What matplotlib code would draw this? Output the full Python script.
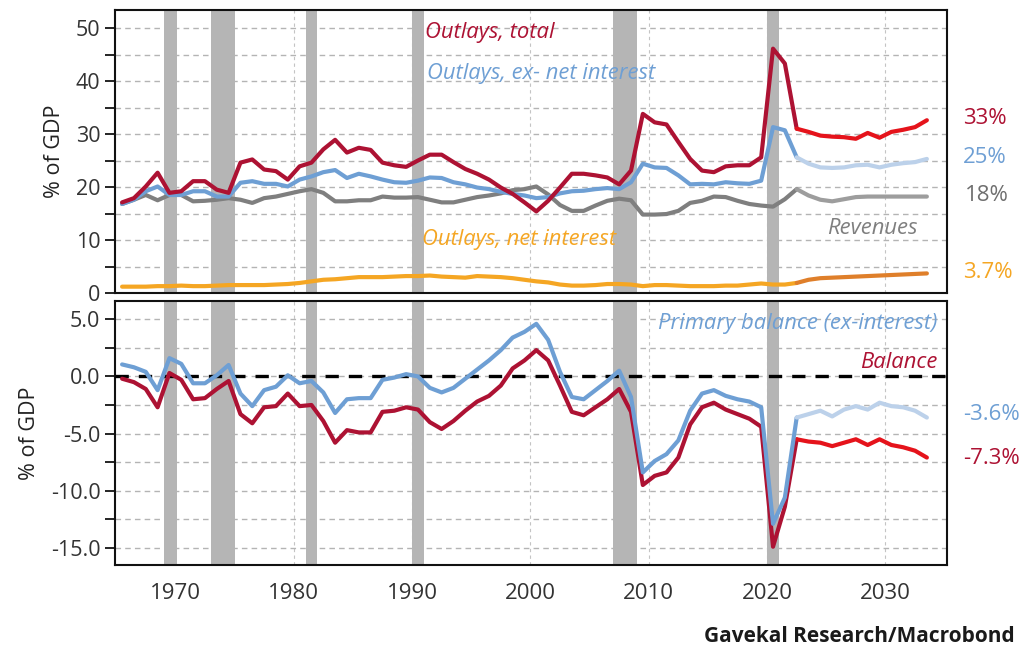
import numpy as np
import matplotlib
matplotlib.use('Agg')
import matplotlib.pyplot as plt
from matplotlib.ticker import MultipleLocator, FormatStrFormatter

plt.rcParams['font.family'] = ['Open Sans', 'DejaVu Sans']

# fiscal years, values as % of GDP (CBO projections from 2023 on)
years = np.arange(1965, 2034)
proj_start = 2022

outlays_total = [17.1, 17.9, 20.1, 22.7, 18.9, 19.2, 21.1, 21.1, 19.5, 18.9,
                 24.6, 25.2, 23.3, 23.0, 21.4, 23.9, 24.6, 27.1, 28.9, 26.5,
                 27.4, 27.0, 24.6, 24.1, 23.8, 25.0, 26.1, 26.1, 24.7, 23.4,
                 22.5, 21.4, 19.9, 18.7, 17.1, 15.4, 17.4, 19.9, 22.5, 22.5,
                 22.2, 21.8, 20.5, 23.1, 33.8, 32.2, 31.8, 28.5, 25.3, 23.1,
                 22.8, 23.9, 24.1, 24.1, 25.6, 46.1, 43.3, 31.0, 30.4, 29.7,
                 29.5, 29.4, 29.1, 30.2, 29.3, 30.4, 30.8, 31.3, 32.6]
outlays_ex_int = [16.8, 17.6, 19.2, 20.1, 18.5, 18.5, 19.2, 19.2, 18.2, 18.2,
                  20.8, 21.1, 20.6, 20.6, 20.1, 21.4, 22.0, 22.8, 23.2, 21.7,
                  22.5, 22.0, 21.4, 20.9, 20.8, 21.2, 21.8, 21.7, 20.9, 20.5,
                  19.9, 19.6, 19.1, 18.7, 18.4, 17.9, 18.1, 18.8, 19.2, 19.3,
                  19.6, 19.8, 19.6, 20.9, 24.4, 23.7, 23.6, 22.2, 20.5, 20.6,
                  20.5, 20.9, 20.7, 20.6, 21.2, 31.3, 30.7, 25.6, 24.4, 23.7,
                  23.6, 23.7, 24.1, 24.2, 23.7, 24.2, 24.5, 24.7, 25.3]
revenues = [16.8, 17.6, 18.5, 17.5, 18.5, 18.5, 17.3, 17.4, 17.6, 17.9,
            17.6, 17.0, 17.9, 18.2, 18.7, 19.2, 19.6, 18.9, 17.3, 17.3,
            17.5, 17.5, 18.2, 18.0, 18.0, 18.1, 17.6, 17.1, 17.1, 17.6,
            18.1, 18.4, 18.8, 19.4, 19.6, 20.1, 18.6, 16.6, 15.5, 15.5,
            16.5, 17.4, 17.8, 17.5, 14.8, 14.8, 14.9, 15.5, 17.0, 17.4,
            18.2, 18.1, 17.4, 16.8, 16.5, 16.3, 17.7, 19.6, 18.4, 17.6,
            17.3, 17.7, 18.1, 18.2, 18.2, 18.2, 18.2, 18.2, 18.2]
net_interest = [1.2, 1.2, 1.2, 1.3, 1.3, 1.4, 1.3, 1.3, 1.4, 1.5,
                1.5, 1.5, 1.5, 1.6, 1.7, 1.9, 2.2, 2.5, 2.6, 2.8,
                3.0, 3.0, 3.0, 3.1, 3.2, 3.2, 3.3, 3.1, 3.0, 2.9,
                3.2, 3.1, 3.0, 2.8, 2.5, 2.2, 2.0, 1.6, 1.4, 1.4,
                1.5, 1.7, 1.7, 1.6, 1.3, 1.5, 1.5, 1.4, 1.3, 1.3,
                1.3, 1.4, 1.4, 1.6, 1.8, 1.6, 1.6, 1.9, 2.5, 2.8,
                2.9, 3.0, 3.1, 3.2, 3.3, 3.4, 3.5, 3.6, 3.7]
primary_balance = [1.05, 0.8, 0.4, -1.2, 1.6, 1.1, -0.6, -0.6, 0.1, 1.0,
                   -1.5, -2.6, -1.2, -0.9, 0.1, -0.6, -0.4, -1.4, -3.2, -2.0,
                   -1.9, -1.9, -0.3, -0.1, 0.2, 0.0, -1.0, -1.4, -1.0, -0.2,
                   0.6, 1.4, 2.3, 3.4, 3.9, 4.6, 3.2, 0.4, -1.8, -2.0,
                   -1.2, -0.4, 0.5, -1.8, -8.4, -7.4, -6.8, -5.6, -3.0, -1.5,
                   -1.2, -1.7, -2.0, -2.2, -2.7, -12.9, -10.6, -3.6, -3.3, -3.0,
                   -3.5, -2.9, -2.6, -2.9, -2.3, -2.6, -2.7, -3.0, -3.6]
balance = [-0.2, -0.5, -1.1, -2.7, 0.3, -0.3, -2.0, -1.9, -1.1, -0.4,
           -3.3, -4.1, -2.7, -2.6, -1.5, -2.6, -2.5, -3.9, -5.8, -4.7,
           -4.9, -4.9, -3.1, -3.0, -2.7, -2.9, -4.0, -4.6, -3.9, -3.0,
           -2.2, -1.7, -0.8, 0.7, 1.4, 2.3, 1.4, -0.8, -3.1, -3.4,
           -2.7, -2.0, -1.1, -3.1, -9.5, -8.7, -8.4, -7.1, -4.2, -2.7,
           -2.3, -2.9, -3.3, -3.7, -4.4, -14.9, -11.4, -5.5, -5.7, -5.8,
           -6.1, -5.8, -5.5, -6.0, -5.5, -6.0, -6.2, -6.5, -7.1]

rec_start = [1969.0, 1973.0, 1981.0, 1990.0, 2007.0, 2020.0]
rec_end = [1970.1, 1975.0, 1982.0, 1991.0, 2009.0, 2021.0]

# colours: (history, projection)
c_red = ('#ad1233', '#e5131b')
c_blue = ('#6e9fd4', '#bcd1ea')
c_gray = ('#7f7f7f', '#9d9d9d')
c_orange = ('#f5a623', '#df7f2a')

x = years + 0.5  # annual values plotted mid-year
hist = years <= proj_start
proj = years >= proj_start

fig = plt.figure(figsize=(10.24, 6.48), dpi=100)
ax1 = fig.add_axes([0.1123, 0.5478, 0.8125, 0.4368])
ax2 = fig.add_axes([0.1123, 0.1281, 0.8125, 0.4074])


def style_axis(ax):
    ax.set_xlim(1964.9, 2035.2)
    ax.xaxis.set_major_locator(MultipleLocator(10))
    ax.yaxis.grid(True, which='both', ls=(0, (4, 3)), color='#b4b4b4', lw=1.0)
    ax.xaxis.grid(True, which='major', ls=(0, (3, 3)), color='#c4c4c4', lw=0.8)
    ax.set_axisbelow(True)
    ax.tick_params(axis='y', which='both', direction='out', length=7.5, width=1.2,
                   labelsize=15.5, labelcolor='#333333', pad=3)
    ax.tick_params(axis='x', length=0, labelsize=16, labelcolor='#333333', pad=13)
    for s in ax.spines.values():
        s.set_linewidth(1.5)
        s.set_color('#111111')
    for a, b in zip(rec_start, rec_end):
        ax.axvspan(a, b, color='#b5b5b5', lw=0, zorder=1)


def plot_split(ax, vals, cols, z):
    vals = np.asarray(vals)
    ax.plot(x[hist], vals[hist], color=cols[0], lw=3.0, zorder=z, solid_capstyle='round')
    ax.plot(x[proj], vals[proj], color=cols[1], lw=3.0, zorder=z, solid_capstyle='round')


# top panel
style_axis(ax1)
ax1.set_ylim(0, 53.4)
ax1.yaxis.set_major_locator(MultipleLocator(10))
ax1.yaxis.set_minor_locator(MultipleLocator(5))
ax1.tick_params(axis='x', labelbottom=False)
plot_split(ax1, net_interest, c_orange, 3)
plot_split(ax1, revenues, c_gray, 4)
plot_split(ax1, outlays_ex_int, c_blue, 5)
plot_split(ax1, outlays_total, c_red, 6)
ax1.set_ylabel('% of GDP', fontsize=15.5, color='#222222', labelpad=8)

# bottom panel
style_axis(ax2)
ax2.set_ylim(-16.5, 6.6)
ax2.yaxis.set_major_locator(MultipleLocator(5))
ax2.yaxis.set_minor_locator(MultipleLocator(2.5))
ax2.yaxis.set_major_formatter(FormatStrFormatter('%.1f'))
ax2.axhline(0, color='black', lw=2.4, ls=(0, (4, 3)), zorder=3)
plot_split(ax2, balance, c_red, 5)
plot_split(ax2, primary_balance, c_blue, 6)
ax2.set_ylabel('% of GDP', fontsize=15.5, color='#222222', labelpad=8)

# series labels
lab = dict(fontsize=15.8, style='italic', va='center')
fig.text(0.415, 0.9506, 'Outlays, total', color=c_red[0], ha='left', **lab)
fig.text(0.417, 0.887, 'Outlays, ex- net interest', color=c_blue[0], ha='left', **lab)
fig.text(0.412, 0.630, 'Outlays, net interest', color=c_orange[0], ha='left', **lab)
fig.text(0.8965, 0.648, 'Revenues', color=c_gray[0], ha='right', **lab)
fig.text(0.915, 0.5015, 'Primary balance (ex-interest)', color=c_blue[0], ha='right', **lab)
fig.text(0.915, 0.441, 'Balance', color=c_red[0], ha='right', **lab)

# end values
end = dict(fontsize=16, va='center', ha='left')
fig.text(0.9404, 0.8179, '33%', color=c_red[0], **end)
fig.text(0.9404, 0.7577, '25%', color=c_blue[0], **end)
fig.text(0.9420, 0.6990, '18%', color='#6f6f6f', **end)
fig.text(0.9404, 0.5800, '3.7%', color=c_orange[0], **end)
fig.text(0.9404, 0.3596, '-3.6%', color=c_blue[0], **end)
fig.text(0.9404, 0.2932, '-7.3%', color=c_red[0], **end)

fig.text(0.991, 0.0185, 'Gavekal Research/Macrobond', fontsize=15, fontweight='bold',
         color='#1a1a1a', ha='right', va='center')

fig.savefig('out.png', dpi=100)
